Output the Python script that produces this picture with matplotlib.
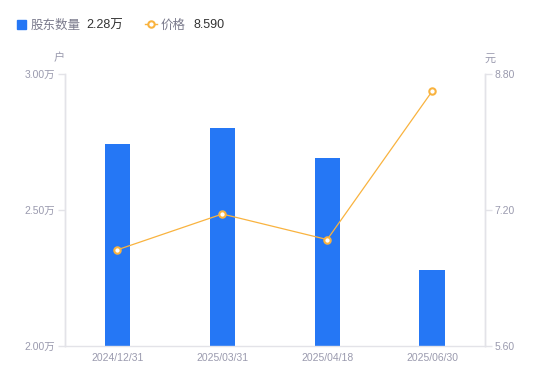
import matplotlib
matplotlib.use("Agg")
import matplotlib.pyplot as plt
from matplotlib.lines import Line2D
from matplotlib.patches import Rectangle

plt.rcParams['font.family'] = ['Liberation Sans', 'Noto Sans CJK SC', 'DejaVu Sans']

categories = ["2024/12/31", "2025/03/31", "2025/04/18", "2025/06/30"]
holders = [2.74, 2.80, 2.69, 2.28]          # 万户
prices = [6.73, 7.15, 6.85, 8.59]           # 元
left_ticks = [2.00, 2.50, 3.00]
right_ticks = [5.60, 7.20, 8.80]
legend_holders = "2.28万"
legend_price = "8.590"

BLUE = "#2577F5"
ORANGE = "#F9B33F"
GRAY = "#9A9AAE"
AXIS = "#E3E3E8"

fig = plt.figure(figsize=(5.5, 3.81), dpi=100)
ax = fig.add_axes([65/550, 35/381, 419.5/550, 272.5/381])
ax2 = ax.twinx()

x = list(range(len(categories)))
ax.bar(x, holders, width=0.24, color=BLUE, zorder=2)
ax.set_xlim(-0.5, len(categories) - 0.5)
ax.set_ylim(left_ticks[0], left_ticks[-1])
ax.set_yticks(left_ticks)
ax.set_yticklabels([f"{v:.2f}万" for v in left_ticks])
ax.set_xticks(x)
ax.set_xticklabels(categories)

ax2.plot(x, prices, color=ORANGE, lw=0.9, marker='o', markersize=4.6,
         markerfacecolor='white', markeredgecolor=ORANGE, markeredgewidth=1.5, zorder=3)
ax2.set_ylim(right_ticks[0], right_ticks[-1])
ax2.set_yticks(right_ticks)
ax2.set_yticklabels([f"{v:.2f}" for v in right_ticks])

for a in (ax, ax2):
    for s in a.spines.values():
        s.set_color(AXIS)
        s.set_linewidth(1)
    a.spines['top'].set_visible(False)
    a.tick_params(axis='y', colors=AXIS, labelcolor=GRAY, labelsize=7.5, length=5, width=1, pad=2)
ax.tick_params(axis='x', length=0, labelcolor=GRAY, labelsize=7.5, pad=5)
ax2.spines['bottom'].set_visible(False)

fig.text(59/550, 1 - 58.5/381, "户", color=GRAY, fontsize=8, ha='center', va='center')
fig.text(490/550, 1 - 58.5/381, "元", color=GRAY, fontsize=8, ha='center', va='center')

# legend
ly = 1 - 24/381
ty = 1 - 25.5/381
fig.patches.append(Rectangle((17/550, ly - 4.5/381), 9/550, 9/381, transform=fig.transFigure,
                             color=BLUE, figure=fig))
fig.text(31/550, ty, "股东数量", color="#7A7A8C", fontsize=9, va='center', ha='left')
fig.text(86/550, ty, legend_holders, color="#333333", fontsize=9, va='center', ha='left')
fig.lines.append(Line2D([145/550, 157/550], [ly, ly], transform=fig.transFigure, color=ORANGE, lw=1,
                        figure=fig))
fig.lines.append(Line2D([151/550], [ly], transform=fig.transFigure, color=ORANGE, marker='o',
                        markersize=4.6, markerfacecolor='white', markeredgewidth=1.5, figure=fig))
fig.text(161/550, ty, "价格", color="#7A7A8C", fontsize=9, va='center', ha='left')
fig.text(193/550, ty, legend_price, color="#333333", fontsize=9, va='center', ha='left')

fig.savefig("out.png", dpi=100)
